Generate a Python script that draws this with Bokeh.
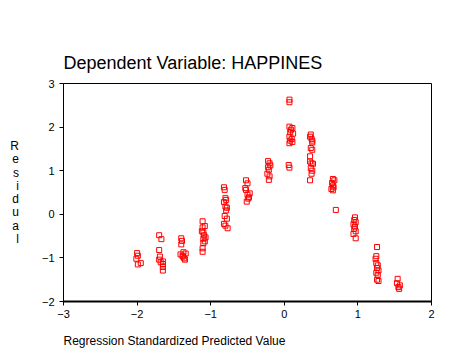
from bokeh.plotting import figure
from bokeh.models import Range1d, FixedTicker, Title
from bokeh.embed import file_html
from bokeh.resources import INLINE

# Regression standardized predicted values and residuals
pred = [
    -2.00, -1.99, -2.01, -1.99, -1.95,
    -1.70, -1.67, -1.70, -1.69, -1.70, -1.68, -1.65, -1.65, -1.65, -1.65,
    -1.40, -1.39, -1.40, -1.41, -1.38, -1.36, -1.35, -1.37, -1.34, -1.38,
    -1.11, -1.11, -1.08, -1.12, -1.10, -1.09, -1.07, -1.10, -1.08, -1.10, -1.11, -1.11,
    -0.82, -0.81, -0.80, -0.79, -0.82, -0.80, -0.78, -0.79, -0.81, -0.78, -0.82, -0.80, -0.77,
    -0.52, -0.50, -0.53, -0.52, -0.47, -0.50, -0.48, -0.49, -0.51,
    -0.22, -0.20, -0.19, -0.22, -0.21, -0.23, -0.20, -0.21,
    0.07, 0.07, 0.07, 0.11, 0.09, 0.08, 0.12, 0.07, 0.10, 0.08, 0.11, 0.07, 0.06, 0.07,
    0.36, 0.35, 0.37, 0.38, 0.38, 0.36, 0.38, 0.35, 0.35, 0.37, 0.39, 0.36, 0.38, 0.37, 0.35,
    0.66, 0.68, 0.65, 0.66, 0.67, 0.64, 0.66, 0.70,
    0.96, 0.95, 0.97, 0.94, 0.96, 0.95, 0.97, 0.94, 0.97,
    1.26, 1.25, 1.24, 1.25, 1.27, 1.26, 1.28, 1.25, 1.27, 1.26, 1.28,
    1.54, 1.53, 1.57, 1.55, 1.56,
]
resid = [
    -0.89, -0.95, -1.02, -1.15, -1.12,
    -0.48, -0.57, -0.82, -0.97, -1.04, -1.10, -1.08, -1.14, -1.21, -1.29,
    -0.55, -0.61, -0.69, -0.92, -0.97, -1.01, -1.04, -0.87, -0.90, -0.95,
    -0.16, -0.30, -0.27, -0.39, -0.42, -0.48, -0.53, -0.56, -0.62, -0.66, -0.78, -0.86,
    0.62, 0.56, 0.37, 0.33, 0.28, 0.18, 0.15, 0.09, -0.04, -0.10, -0.22, -0.26, -0.32,
    0.78, 0.71, 0.60, 0.56, 0.48, 0.45, 0.39, 0.36, 0.29,
    1.22, 1.17, 1.12, 1.08, 1.02, 0.93, 0.87, 0.79,
    2.63, 2.57, 2.01, 1.98, 1.94, 1.88, 1.85, 1.78, 1.73, 1.69, 1.66, 1.63, 1.13, 1.07,
    1.83, 1.78, 1.73, 1.69, 1.65, 1.52, 1.48, 1.33, 1.21, 1.17, 1.16, 1.06, 1.00, 0.93, 0.78,
    0.81, 0.78, 0.72, 0.66, 0.62, 0.58, 0.55, 0.10,
    -0.07, -0.13, -0.18, -0.23, -0.28, -0.33, -0.39, -0.45, -0.55,
    -0.75, -0.96, -1.02, -1.12, -1.17, -1.23, -1.29, -1.34, -1.39, -1.50, -1.53,
    -1.48, -1.58, -1.63, -1.67, -1.71,
]
x_ticks = [-3, -2, -1, 0, 1, 2]
y_ticks = [-2, -1, 0, 1, 2, 3]
title_text = "Dependent Variable: HAPPINES"
x_title = "Regression Standardized Predicted Value"
y_title = "Residual"

FONT = "Liberation Sans"

p = figure(width=443, height=358, output_backend="svg", toolbar_location=None,
           x_range=Range1d(-3, 2), y_range=Range1d(-2, 3), title=None,
           min_border_left=63, min_border_right=12, min_border_top=83, min_border_bottom=57)
p.background_fill_color = "white"
p.border_fill_color = "white"
p.outline_line_color = "black"
p.outline_line_width = 1
p.xgrid.visible = False
p.ygrid.visible = False

p.scatter(pred, resid, marker="square", size=5, fill_color=None,
          line_color="red", line_width=1)

for ax, ticks in ((p.xaxis[0], x_ticks), (p.yaxis[0], y_ticks)):
    ax.ticker = FixedTicker(ticks=ticks)
    ax.minor_tick_line_color = None
    ax.major_tick_in = 0
    ax.major_tick_out = 4
    ax.major_tick_line_color = "black"
    ax.axis_line_color = "black"
    ax.major_label_text_font = FONT
    ax.major_label_text_font_size = "11px"
    ax.major_label_text_color = "black"
p.xaxis[0].axis_line_width = 2
p.xaxis[0].major_label_standoff = 4
p.yaxis[0].major_label_standoff = 5

yax = p.yaxis[0]
yax.axis_label = "\n".join(y_title)
yax.axis_label_orientation = "horizontal"
yax.axis_label_text_font = FONT
yax.axis_label_text_font_size = "12px"
yax.axis_label_text_font_style = "normal"
yax.axis_label_text_color = "black"
yax.axis_label_text_line_height = 0.95
yax.axis_label_standoff = 20

p.add_layout(Title(text=title_text, align="left", text_font=FONT,
                   text_font_size="18px", text_font_style="normal",
                   text_color="black", standoff=21), "above")
p.add_layout(Title(text=x_title, align="left", text_font=FONT,
                   text_font_size="12px", text_font_style="normal",
                   text_color="black", standoff=22), "below")

open("out.html", "w").write(file_html(p, INLINE))
